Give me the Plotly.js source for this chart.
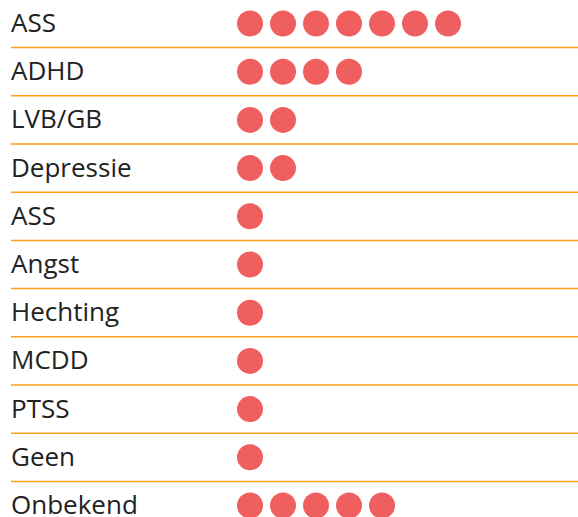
<!DOCTYPE html>
<html>
<head>
<meta charset="utf-8">
<script src="https://cdn.plot.ly/plotly-3.0.1.min.js"></script>
<style>html,body{margin:0;padding:0;background:#fff;}#chart{width:578px;height:517px;}</style>
</head>
<body>
<div id="chart"></div>
<script>
const categories = ["ASS", "ADHD", "LVB/GB", "Depressie", "ASS", "Angst", "Hechting", "MCDD", "PTSS", "Geen", "Onbekend"];
const counts = [7, 4, 2, 2, 1, 1, 1, 1, 1, 1, 5];

const xs = [], ys = [];
counts.forEach((c, i) => {
  for (let k = 0; k < c; k++) { xs.push(k); ys.push(i); }
});

const W = 578, H = 517;
const x0 = 250, dx = 33;      // pixel of first dot, spacing
const y0 = 23.5, dy = 48.2;   // pixel of first row, row spacing

const annotations = categories.map((c, i) => ({
  x: 9 / W, xref: 'paper', xanchor: 'left',
  y: i, yref: 'y', yanchor: 'middle', yshift: 1.5,
  text: c, showarrow: false,
  font: {family: 'Open Sans', size: 26, color: '#222222'}
}));

const shapes = [];
for (let i = 0; i < categories.length - 1; i++) {
  shapes.push({type: 'line', xref: 'paper', x0: 11 / W, x1: 1, yref: 'y', y0: i + 0.5, y1: i + 0.5,
    line: {color: '#FF9E1B', width: 1.5}});
}

Plotly.newPlot('chart', [{
  type: 'scatter', mode: 'markers', x: xs, y: ys,
  marker: {size: 26, color: '#F05F5F', line: {width: 0}},
  hoverinfo: 'skip', cliponaxis: true
}], {
  width: W, height: H,
  margin: {l: 0, r: 0, t: 0, b: 0, pad: 0},
  paper_bgcolor: '#fff', plot_bgcolor: '#fff',
  showlegend: false,
  xaxis: {range: [-x0 / dx, (W - x0) / dx], visible: false, fixedrange: true},
  yaxis: {range: [(H - y0) / dy, -y0 / dy], visible: false, fixedrange: true},
  annotations: annotations, shapes: shapes
}, {displayModeBar: false, staticPlot: true});
</script>
</body>
</html>
